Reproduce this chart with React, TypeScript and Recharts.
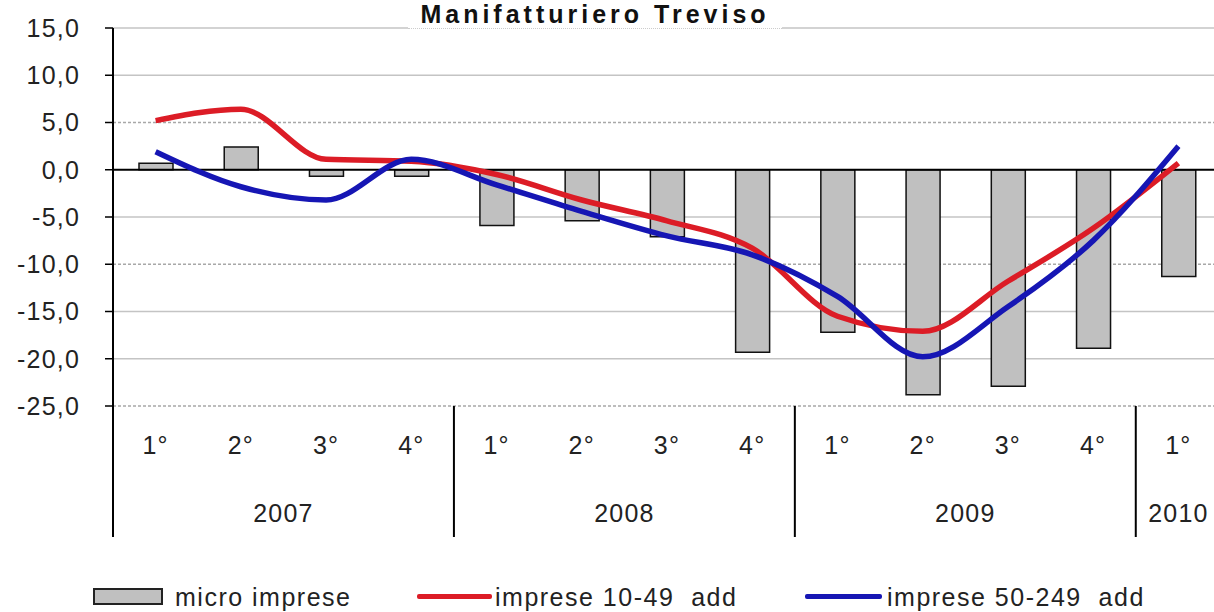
import React from 'react';
import { ComposedChart, Bar, Line, XAxis, YAxis, CartesianGrid, ReferenceLine } from 'recharts';

const years = ['2007', '2007', '2007', '2007', '2008', '2008', '2008', '2008', '2009', '2009', '2009', '2009', '2010'];
const quarters = ['1°', '2°', '3°', '4°', '1°', '2°', '3°', '4°', '1°', '2°', '3°', '4°', '1°'];
const microImprese = [0.7, 2.4, -0.7, -0.7, -5.9, -5.4, -7.1, -19.3, -17.2, -23.8, -22.9, -18.9, -11.3];
const imprese1049 = [5.2, 6.4, 1.1, 0.9, -0.5, -3.2, -5.4, -8.3, -15.5, -17.1, -11.8, -6.2, 0.7];
const imprese50249 = [1.9, -1.8, -3.2, 1.1, -1.6, -4.4, -7.0, -9.0, -13.4, -19.8, -14.5, -7.5, 2.5];
const yTicks = [15, 10, 5, 0, -5, -10, -15, -20, -25];
const solidGrid = [15, 10, -5, -15, -20];
const dottedGrid = [5, -10, -25];

const data = quarters.map((q, i) => ({
  key: `${years[i]} ${q}`,
  micro: microImprese[i],
  small: imprese1049[i],
  medium: imprese50249[i],
}));

const CHART_W = 1231;
const CHART_H = 612;
const Y_AXIS_W = 113;
const MARGIN = { top: 28, right: 10, bottom: 0, left: 0 };
const X_AXIS_H = 206;
const AXIS_Y = CHART_H - MARGIN.bottom - X_AXIS_H;
const BAND = (CHART_W - MARGIN.left - MARGIN.right - Y_AXIS_W) / data.length;
const FONT = "'Liberation Sans', Arial, sans-serif";
const RED = '#dc1c26';
const BLUE = '#1616b4';

const QuarterTick = (props: any) => {
  const { x, payload } = props;
  const i = payload.index ?? props.index;
  const year = years[i];
  const first = i === 0 || years[i - 1] !== year;
  const count = years.filter((y) => y === year).length;
  const textStyle = { fontFamily: FONT, fontSize: 25, letterSpacing: 1.2, fill: '#222' };
  return (
    <g>
      <text x={x} y={AXIS_Y + 39} textAnchor="middle" dominantBaseline="central" style={textStyle}>
        {quarters[i]}
      </text>
      {first && (
        <>
          <line x1={x - BAND / 2} x2={x - BAND / 2} y1={AXIS_Y} y2={AXIS_Y + 131} stroke="#000" strokeWidth={2} />
          <text x={x + (BAND * (count - 1)) / 2} y={AXIS_Y + 107} textAnchor="middle" dominantBaseline="central" style={textStyle}>
            {year}
          </text>
        </>
      )}
    </g>
  );
};

const legendItems = [
  { name: 'micro imprese', kind: 'bar', color: '#c0c0c0', left: 93, width: 70, textLeft: 175 },
  { name: 'imprese 10-49  add', kind: 'line', color: RED, left: 417, width: 75, textLeft: 495 },
  { name: 'imprese 50-249  add', kind: 'line', color: BLUE, left: 805, width: 77, textLeft: 887 },
];

const App = () => {
  return (
    <div style={{ position: 'absolute', left: 0, top: 0, width: 1214, height: 612, overflow: 'hidden', background: '#fff' }}>
      <ComposedChart width={CHART_W} height={CHART_H} data={data} margin={MARGIN}>
        <CartesianGrid vertical={false} horizontalValues={solidGrid} stroke="#c4c4c4" strokeWidth={1.5} />
        <CartesianGrid vertical={false} horizontalValues={dottedGrid} stroke="#a8a8a8" strokeDasharray="3 2" strokeWidth={1.5} />
        <XAxis
          dataKey="key"
          height={X_AXIS_H}
          interval={0}
          axisLine={false}
          tickLine={false}
          tick={(p: any) => <QuarterTick {...p} />}
        />
        <YAxis
          width={Y_AXIS_W}
          domain={[-25, 15]}
          ticks={yTicks}
          interval={0}
          tickSize={8}
          tickMargin={25}
          axisLine={{ stroke: '#000', strokeWidth: 2 }}
          tickLine={{ stroke: '#000', strokeWidth: 1.5 }}
          tick={{ fontFamily: FONT, fontSize: 25, letterSpacing: 1.2, fill: '#222' }}
          tickFormatter={(v: number) => v.toFixed(1).replace('.', ',')}
        />
        <Bar dataKey="micro" barSize={34} fill="#c0c0c0" stroke="#111" strokeWidth={1.5} isAnimationActive={false} />
        <ReferenceLine y={0} stroke="#000" strokeWidth={2} />
        <Line type="monotone" dataKey="small" stroke={RED} strokeWidth={5.5} dot={false} isAnimationActive={false} />
        <Line type="monotone" dataKey="medium" stroke={BLUE} strokeWidth={5.5} dot={false} isAnimationActive={false} />
      </ComposedChart>

      <div
        style={{
          position: 'absolute',
          left: 408,
          top: 0,
          width: 374,
          height: 28,
          background: '#fff',
          borderBottom: '1px dotted #ccc',
          textAlign: 'center',
          fontFamily: FONT,
          fontWeight: 'bold',
          fontSize: 25,
          lineHeight: '28px',
          letterSpacing: 4,
          color: '#111',
        }}
      >
        Manifatturiero Treviso
      </div>

      {legendItems.map((item) => (
        <React.Fragment key={item.name}>
          {item.kind === 'bar' ? (
            <div
              style={{
                position: 'absolute',
                left: item.left,
                top: 588,
                width: item.width,
                height: 17,
                boxSizing: 'border-box',
                background: item.color,
                border: '2px solid #222',
              }}
            />
          ) : (
            <div
              style={{
                position: 'absolute',
                left: item.left,
                top: 594,
                width: item.width,
                height: 5,
                borderRadius: 2,
                background: item.color,
              }}
            />
          )}
          <div
            style={{
              position: 'absolute',
              left: item.textLeft,
              top: 582,
              fontFamily: FONT,
              fontSize: 25,
              lineHeight: '30px',
              letterSpacing: 1.5,
              whiteSpace: 'pre',
              color: '#222',
            }}
          >
            {item.name}
          </div>
        </React.Fragment>
      ))}
    </div>
  );
};

export default App;
